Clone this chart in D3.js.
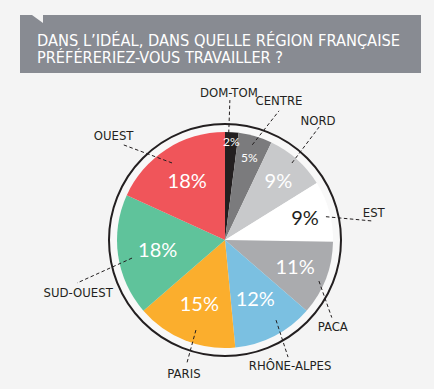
<!DOCTYPE html>
<html><head><meta charset="utf-8">
<script src="https://cdn.jsdelivr.net/npm/d3@7"></script>
<style>
html,body{margin:0;padding:0;background:#f4f4f4;}
svg{display:block;}
</style></head>
<body>
<svg id="chart" width="434" height="389"></svg>
<script>
// ---- data ----
const categories = ["DOM-TOM","CENTRE","NORD","EST","PACA","RHÔNE-ALPES","PARIS","SUD-OUEST","OUEST"];
const values = [2,5,9,9,11,12,15,18,18];
const valueLabels = ["2%","5%","9%","9%","11%","12%","15%","18%","18%"];
const titleLines = ["DANS L\u2019IDÉAL, DANS QUELLE RÉGION FRANÇAISE","PRÉFÉRERIEZ-VOUS TRAVAILLER ?"];

// ---- styles / layout ----
const colors = ["#231f20","#7b7b7d","#c8c9cb","#ffffff","#aaabae","#7bc0e1","#fbae2d","#5fc39b","#f0555a"];
const valueTextColors = ["#fff","#fff","#fff","#231f20","#fff","#fff","#fff","#fff","#fff"];
const valueFontSizes = [12,12,20,20,20,20,20,20,20];
const valueLabelR = [99,86,80,83,75,66,69,68,70];
// leader lines: [angle1 deg, r1, angle2 deg, r2]
const leaders = [[2,107,2,140],[16,99,22.7,140],[41,102,39.8,147],[77,103.6,82.6,148],[113.6,102.5,126,132],[147.5,95,151.7,133],[197.9,94.6,197.2,128.7],[259,94.7,253.8,154],[325.5,93.5,313,140]];
// label baseline offsets from leader end
const labelOffsets = [[-1,-3],[0,-6],[-1,-2],[2,-4],[1,13],[2,13],[-3,15],[1,14],[-9,-5]];

const W = 434, H = 389;
const cx = 225, cy = 240;
const svg = d3.select("#chart");

svg.append("rect").attr("width",W).attr("height",H).attr("fill","#f4f4f4");

// title box with notch
svg.append("path")
  .attr("d","M20,15 L32,15 L43,23 L43,15 L421,15 L421,73 L20,73 Z")
  .attr("fill","#888b92");
const tLens = [363, 246];
titleLines.forEach((t,i)=>{
  svg.append("text")
    .attr("x",37).attr("y",45.5 + i*17.8)
    .attr("fill","#ffffff")
    .attr("font-family","'Liberation Sans Narrow','DejaVu Sans Condensed',sans-serif")
    .attr("font-size",16)
    .attr("textLength",tLens[i]).attr("lengthAdjust","spacingAndGlyphs")
    .text(t);
});

// scales
const rScale = d3.scaleLinear().domain([0,1]).range([0,108]);
const pie = d3.pie().sort(null).value(d=>d)(values);
const arc = d3.arc().innerRadius(0).outerRadius(rScale(1));
const g = svg.append("g").attr("transform",`translate(${cx},${cy})`);

// outer ring
g.append("circle").attr("r",rScale(1)+8).attr("fill","#f8f8f8")
  .attr("stroke","#231f20").attr("stroke-width",2);

g.selectAll("path.slice").data(pie).enter().append("path")
  .attr("class","slice").attr("d",arc).attr("fill",(d,i)=>colors[i]);

const polar = (deg,r)=>{const a=deg*Math.PI/180;return [r*Math.sin(a), -r*Math.cos(a)];};

// leader lines
leaders.forEach((l,i)=>{
  const p1 = polar(l[0],l[1]), p2 = polar(l[2],l[3]);
  g.append("line").attr("x1",p1[0]).attr("y1",p1[1]).attr("x2",p2[0]).attr("y2",p2[1])
    .attr("stroke","#231f20").attr("stroke-width",1).attr("stroke-dasharray","3.5,2.5");
  g.append("text")
    .attr("x",p2[0]+labelOffsets[i][0]).attr("y",p2[1]+labelOffsets[i][1])
    .attr("text-anchor","middle")
    .attr("font-family","'Liberation Sans Narrow','DejaVu Sans Condensed',sans-serif")
    .attr("font-size",13).attr("fill","#231f20")
    .text(categories[i]);
});

// value labels
g.selectAll("text.val").data(pie).enter().append("text")
  .attr("class","val")
  .attr("transform",(d,i)=>{
    const mid=(d.startAngle+d.endAngle)/2*180/Math.PI;
    const p=polar(mid,valueLabelR[i]);return `translate(${p[0]},${p[1]})`;})
  .attr("text-anchor","middle").attr("dy","0.36em")
  .attr("font-family","Lato,'Open Sans',sans-serif")
  .attr("font-size",(d,i)=>valueFontSizes[i])
  .attr("fill",(d,i)=>valueTextColors[i])
  .text((d,i)=>valueLabels[i]);
</script>
</body></html>
